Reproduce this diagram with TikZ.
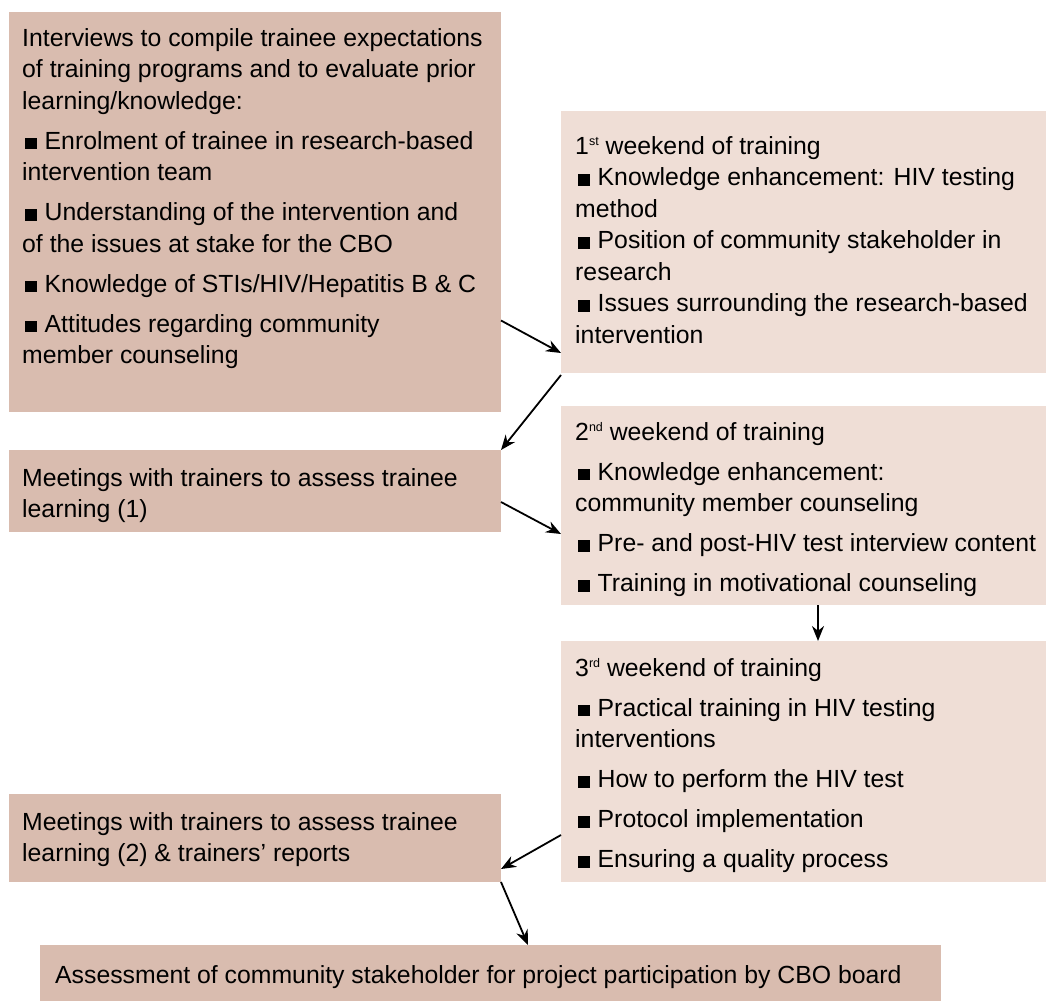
\documentclass[tikz,border=0pt]{standalone}
\usepackage{fontspec}
\setmainfont{Liberation Sans}
\usetikzlibrary{arrows.meta,calc}
\definecolor{darkrose}{HTML}{D9BCAF}
\definecolor{lightrose}{HTML}{EFDED6}
\newcommand\sqb{\hspace{2.7pt}\rule{12pt}{11.5pt}\hspace{7.8pt}}
\newcommand\fl{\rule{0pt}{20pt}}
\newcommand\supx[1]{\raisebox{9pt}{\fontsize{12.5}{13}\selectfont #1}}
\begin{document}
\begin{tikzpicture}[x=1pt,y=-1pt,
  boxdark/.style={fill=darkrose, draw=none, inner sep=0, outer sep=0, anchor=north west},
  boxlight/.style={fill=lightrose, draw=none, inner sep=0, outer sep=0, anchor=north west},
  txt/.style={anchor=north west, inner sep=0, align=left, font=\fontsize{24.8}{31.5}\selectfont},
  arr/.style={-{Stealth[length=15pt,width=12pt]}, line width=1.8pt}]
\useasboundingbox (0,0) rectangle (1046,1001);
\node[boxdark, minimum width=492, minimum height=400] (a) at (9,12) {};
\node[boxlight, minimum width=485, minimum height=262] (b) at (561,111) {};
\node[boxdark, minimum width=492, minimum height=82] (c) at (9,450) {};
\node[boxlight, minimum width=485, minimum height=199] (d) at (561,406) {};
\node[boxlight, minimum width=485, minimum height=241] (e) at (561,641) {};
\node[boxdark, minimum width=492, minimum height=88] (f) at (9,794) {};
\node[boxdark, minimum width=901, minimum height=56] (g) at (40,945) {};

\node[txt] (ta) at (22,26) {\fl Interviews to compile trainee expectations\\
of training programs and to evaluate prior\\
learning/knowledge:\\[8.5pt]
\sqb Enrolment of trainee in research-based\\
intervention team\\[8.5pt]
\sqb Understanding of the intervention and\\
of the issues at stake for the CBO\\[8.5pt]
\sqb Knowledge of STIs/HIV/Hepatitis B \& C\\[8.5pt]
\sqb Attitudes regarding community\\
member counseling};

\node[txt] (tb) at (575,134) {\fl 1\supx{st} weekend of training\\
\sqb Knowledge enhancement: HIV testing\\
method\\
\sqb Position of community stakeholder in\\
research\\
\sqb Issues surrounding the research-based\\
intervention};

\node[txt] (tc) at (22,466) {\fl Meetings with trainers to assess trainee\\
learning (1)};

\node[txt] (td) at (575,420) {\fl 2\supx{nd} weekend of training\\[8.5pt]
\sqb Knowledge enhancement:\\
community member counseling\\[8.5pt]
\sqb Pre- and post-HIV test interview content\\[8.5pt]
\sqb Training in motivational counseling};

\node[txt] (te) at (575,656) {\fl 3\supx{rd} weekend of training\\[8.5pt]
\sqb Practical training in HIV testing\\
interventions\\[8.5pt]
\sqb How to perform the HIV test\\[8.5pt]
\sqb Protocol implementation\\[8.5pt]
\sqb Ensuring a quality process};

\node[txt] (tf) at (22,810) {\fl Meetings with trainers to assess trainee\\
learning (2) \& trainers’ reports};

\node[txt] (tg) at (55,963) {\fl Assessment of community stakeholder for project participation by CBO board};

\draw[arr] ($(a.north east)+(0,308.5)$) -- ($(b.north west)+(0,242)$);
\draw[arr] ($(b.south west)+(0,2)$) -- (c.north east);
\draw[arr] ($(c.north east)+(0,52)$) -- ($(d.north west)+(0,128)$);
\draw[arr] ($(d.south west)+(257,0)$) -- ($(e.north west)+(257,0)$);
\draw[arr] ($(e.north west)+(0,194)$) -- ($(f.north east)+(0,75)$);
\draw[arr] (f.south east) -- ($(g.north west)+(488,0)$);
\end{tikzpicture}
\end{document}
